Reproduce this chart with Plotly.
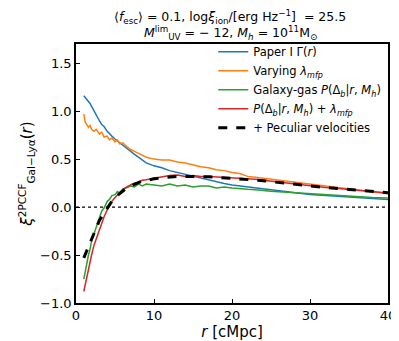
import plotly.graph_objects as go

# separation r [cMpc]
r = [1.0, 1.2, 1.4, 1.6, 1.8, 2.0, 2.3, 2.6, 3.0, 3.3, 3.6, 4.0, 4.3, 4.6, 5.0, 5.3, 5.6,
     6.0, 6.5, 7.0, 7.5, 8.0, 8.5, 9.0, 10, 11, 12, 13, 14, 15, 16, 17, 18, 19, 20,
     21, 22, 23, 24, 25, 26, 27, 28, 29, 30, 32, 34, 36, 38, 40]

paper1 = [1.16, 1.14, 1.13, 1.10, 1.08, 1.05, 1.00, 0.96, 0.90, 0.86, 0.84, 0.79, 0.76, 0.74,
          0.71, 0.69, 0.67, 0.65, 0.62, 0.58, 0.55, 0.52, 0.49, 0.46, 0.43, 0.41, 0.38, 0.36,
          0.34, 0.32, 0.30, 0.28, 0.26, 0.245, 0.23, 0.22, 0.21, 0.20, 0.19, 0.18, 0.17, 0.16,
          0.15, 0.14, 0.13, 0.12, 0.11, 0.10, 0.09, 0.08]

lmfp = [0.97, 0.88, 0.86, 0.83, 0.85, 0.81, 0.79, 0.81, 0.76, 0.78, 0.73, 0.74, 0.70, 0.72,
        0.68, 0.70, 0.66, 0.67, 0.63, 0.60, 0.58, 0.56, 0.54, 0.52, 0.50, 0.49, 0.49, 0.47,
        0.46, 0.44, 0.42, 0.41, 0.39, 0.38, 0.36, 0.35, 0.32, 0.31, 0.30, 0.29, 0.28, 0.27,
        0.26, 0.25, 0.24, 0.22, 0.20, 0.18, 0.16, 0.14]

galgas = [-0.75, -0.66, -0.60, -0.50, -0.44, -0.35, -0.28, -0.20, -0.12, -0.04, -0.01, 0.06,
          0.08, 0.12, 0.13, 0.16, 0.15, 0.19, 0.20, 0.22, 0.21, 0.24, 0.22, 0.24, 0.23, 0.22,
          0.24, 0.22, 0.23, 0.21, 0.22, 0.22, 0.20, 0.21, 0.20, 0.19, 0.185, 0.18, 0.17, 0.165,
          0.16, 0.155, 0.15, 0.14, 0.135, 0.125, 0.12, 0.11, 0.10, 0.095]

galgas_lmfp = [-0.88, -0.80, -0.72, -0.66, -0.58, -0.50, -0.40, -0.33, -0.22, -0.16, -0.10,
               -0.03, 0.02, 0.06, 0.10, 0.13, 0.15, 0.18, 0.21, 0.23, 0.25, 0.26, 0.28, 0.285,
               0.30, 0.31, 0.33, 0.335, 0.32, 0.33, 0.32, 0.32, 0.315, 0.31, 0.31, 0.305, 0.30,
               0.29, 0.28, 0.27, 0.26, 0.25, 0.24, 0.23, 0.22, 0.205, 0.19, 0.175, 0.16, 0.148]

pecvel = [-0.53, -0.49, -0.45, -0.41, -0.37, -0.33, -0.27, -0.21, -0.14, -0.10, -0.06, -0.01,
          0.03, 0.06, 0.10, 0.12, 0.14, 0.17, 0.20, 0.22, 0.24, 0.255, 0.27, 0.28, 0.295,
          0.305, 0.315, 0.32, 0.32, 0.32, 0.32, 0.315, 0.31, 0.305, 0.30, 0.295, 0.29, 0.28,
          0.275, 0.265, 0.255, 0.245, 0.235, 0.228, 0.22, 0.205, 0.19, 0.175, 0.162, 0.15]

series = [
    (paper1, "Paper I Γ(<i>r</i>)", "#1f77b4", "solid", 1.5),
    (lmfp, "Varying <i>λ<sub>mfp</sub></i>", "#ff7f0e", "solid", 1.5),
    (galgas, "Galaxy-gas <i>P</i>(Δ<sub><i>b</i></sub>|<i>r</i>, <i>M<sub>h</sub></i>)", "#2ca02c", "solid", 1.5),
    (galgas_lmfp, "<i>P</i>(Δ<sub><i>b</i></sub>|<i>r</i>, <i>M<sub>h</sub></i>) + <i>λ<sub>mfp</sub></i>", "#d62728", "solid", 1.5),
    (pecvel, "+ Peculiar velocities", "black", "dash", 3),
]

title_lines = [
    "⟨<i>f</i><sub>esc</sub>⟩ = 0.1, log<i>ξ</i><sub>ion</sub>/[erg Hz<sup>−1</sup>]  = 25.5",
    "<i>M</i><sup>lim</sup><sub>UV</sub> = − 12, <i>M<sub>h</sub></i> = 10<sup>11</sup>M<sub>⊙</sub>",
]

fig = go.Figure()
for ys, name, col, dash, w in series:
    fig.add_trace(go.Scatter(x=r, y=ys, mode="lines", name=name,
                             line=dict(color=col, width=w, dash=dash)))

fig.add_shape(type="line", x0=0, x1=40, y0=0, y1=0, xref="x", yref="y",
              line=dict(color="black", width=1.2, dash="dot"), layer="below")

# two-line title as annotations
for txt, yy in zip(title_lines, [1.105, 1.041]):
    fig.add_annotation(text=txt, x=0.494, y=yy, xref="paper", yref="paper",
                       xanchor="center", yanchor="middle", showarrow=False,
                       font=dict(size=12.5, color="black"))

axis_common = dict(showline=True, linecolor="black", linewidth=1.5, mirror=True,
                   ticks="inside", ticklen=4, tickwidth=1, tickcolor="black",
                   showgrid=False, zeroline=False,
                   tickfont=dict(size=13, color="black"))

fig.update_xaxes(range=[0, 40], tickvals=[0, 10, 20, 30, 40],
                 title=dict(text="<i>r</i> [cMpc]", font=dict(size=15, color="black"), standoff=4),
                 **axis_common)
fig.update_yaxes(range=[-1.0, 1.7], tickvals=[-1.0, -0.5, 0.0, 0.5, 1.0, 1.5], tickformat=".1f",
                 title=dict(text="<i>ξ</i><sup>2PCCF</sup><sub>Gal−Lyα</sub>(<i>r</i>)",
                            font=dict(size=15, color="black"), standoff=4),
                 **axis_common)

fig.update_layout(
    width=399, height=341,
    margin=dict(l=68, r=11, t=36, b=39),
    paper_bgcolor="white", plot_bgcolor="white",
    font=dict(family="DejaVu Sans", color="black"),
    legend=dict(x=0.44, y=1.026, xanchor="left", yanchor="top", bgcolor="rgba(0,0,0,0)",
                font=dict(size=11.5, color="black"), tracegroupgap=0),
)

fig.write_html("out.html")
